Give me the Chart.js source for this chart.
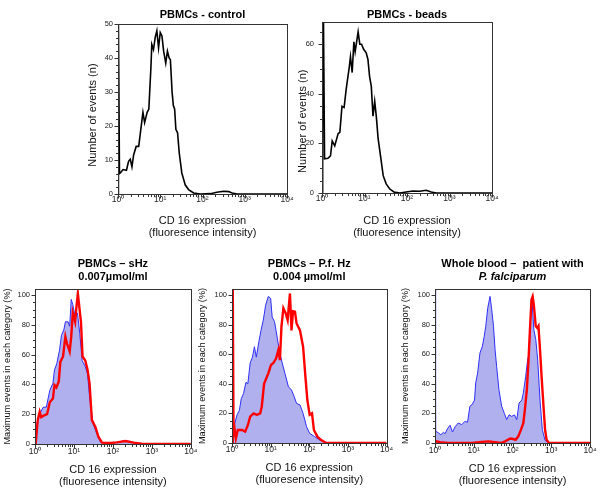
<!DOCTYPE html>
<html>
<head>
<meta charset="utf-8">
<script src="https://cdn.jsdelivr.net/npm/chart.js@4.4.1/dist/chart.umd.min.js"></script>
<style>
  html, body { margin: 0; padding: 0; background: #fff; }
  body { width: 600px; height: 492px; position: relative; overflow: hidden; }
  canvas { position: absolute; }
</style>
</head>
<body>
<canvas id="p1" width="240" height="245" style="left:60px;top:0px"></canvas>
<canvas id="p2" width="240" height="245" style="left:270px;top:0px"></canvas>
<canvas id="p3" width="200" height="242" style="left:0px;top:250px"></canvas>
<canvas id="p4" width="200" height="242" style="left:195px;top:250px"></canvas>
<canvas id="p5" width="202" height="242" style="left:398px;top:250px"></canvas>
<script>
// x values are decades of fluorescence intensity: 0 = 10^0 ... 4 = 10^4
const decadeTicks = ['10\u2070', '10\u00b9', '10\u00b2', '10\u00b3', '10\u2074'];

// PBMCs - control (number of events)
const controlX = [0, 0.01, 0.035, 0.055, 0.12, 0.2, 0.25, 0.29, 0.33, 0.37, 0.43, 0.49, 0.53, 0.59, 0.63, 0.69, 0.73, 0.78, 0.8, 0.84, 0.88, 0.92, 0.96, 1.0, 1.04, 1.08, 1.13, 1.17, 1.21, 1.24, 1.28, 1.31, 1.34, 1.37, 1.41, 1.45, 1.51, 1.59, 1.67, 1.79, 1.95, 2.19, 2.34, 2.5, 2.62, 2.7, 2.82, 4];
const controlY = [0, 50, 6, 6.2, 7.2, 7, 9.6, 10.2, 8, 11.5, 14, 14, 18, 24, 21, 24, 25, 37.5, 44, 42.5, 46, 48, 43, 47.5, 46.5, 42, 38.5, 42, 40, 39.5, 30, 26, 25, 19, 18, 12, 6.2, 2.7, 1.3, 0.3, 0, 0.1, 0.5, 0.8, 0.7, 0.3, 0, 0];

// PBMCs - beads (number of events)
const beadsX = [0.005, 0.015, 0.035, 0.06, 0.14, 0.2, 0.24, 0.3, 0.38, 0.42, 0.47, 0.52, 0.57, 0.64, 0.67, 0.71, 0.75, 0.78, 0.85, 0.89, 0.93, 0.98, 1.04, 1.08, 1.12, 1.16, 1.2, 1.24, 1.28, 1.32, 1.37, 1.44, 1.51, 1.59, 1.69, 1.83, 1.98, 2.14, 2.3, 2.45, 2.57, 2.69, 4];
const beadsY = [0, 69, 69, 13.8, 14, 15, 21, 19, 24, 24.5, 35, 34.5, 42, 50.6, 55, 48.6, 61, 57, 65, 60, 60, 58, 56.6, 54, 47, 43, 31, 37, 30.5, 22, 15.8, 7, 3.7, 1.7, 0.4, 0, 0.4, 0.8, 0.7, 1.1, 0.4, 0, 0];

// PBMCs - sHz (% of max), blue = filled reference, red = treated
const sHzBlueX = [0.017, 0.05, 0.12, 0.21, 0.29, 0.38, 0.46, 0.5, 0.56, 0.63, 0.68, 0.74, 0.78, 0.85, 0.89, 0.93, 0.97, 1.03, 1.09, 1.15, 1.21, 1.29, 1.35, 1.4, 1.49, 1.57, 1.68, 1.85, 2.06, 2.27, 2.44, 2.62, 2.79, 4];
const sHzBlueY = [0, 13.7, 20.2, 24.7, 24.7, 36, 40.7, 49.7, 54, 63, 73, 76.6, 82, 82, 79, 97, 93.5, 85.6, 88, 74, 56, 52, 47, 31.7, 13.7, 8, 1.3, 0.7, 1, 2, 1.8, 0.4, 0, 0];
const sHzRedX = [0.017, 0.07, 0.12, 0.16, 0.22, 0.31, 0.38, 0.46, 0.5, 0.55, 0.61, 0.65, 0.72, 0.78, 0.82, 0.89, 0.93, 0.97, 1.03, 1.06, 1.1, 1.15, 1.18, 1.22, 1.29, 1.35, 1.4, 1.46, 1.55, 1.63, 1.72, 1.93, 2.1, 2.32, 2.53, 2.74, 2.96, 4];
const sHzRedY = [0, 16, 21.6, 18, 19, 20, 28, 30.5, 39.5, 38, 42, 55, 58.7, 72, 67.6, 62, 72, 88, 82, 91, 101, 89, 82, 58.7, 56, 49.7, 40.7, 16, 11.5, 4.7, 0.9, 0.7, 1.1, 2, 0.9, 0.2, 0, 0];

// PBMCs - P.f. Hz (% of max)
const pfHzBlueX = [0.02, 0.07, 0.13, 0.19, 0.24, 0.3, 0.36, 0.41, 0.47, 0.53, 0.58, 0.63, 0.69, 0.75, 0.81, 0.87, 0.94, 1.0, 1.04, 1.1, 1.14, 1.18, 1.24, 1.3, 1.37, 1.46, 1.54, 1.61, 1.67, 1.76, 1.84, 1.93, 2.01, 2.14, 2.27, 2.4, 2.48, 4];
const pfHzBlueY = [0, 13, 19, 22, 30, 33.5, 41, 40, 54, 58, 65, 58, 67.6, 76, 83, 93, 99, 97.7, 85, 82, 76, 69.6, 60.6, 54, 47, 38, 35.8, 31.3, 26.8, 25.7, 20, 11, 6.5, 4.3, 2, 0.5, 0, 0];
const pfHzRedX = [0.01, 0.02, 0.04, 0.07, 0.1, 0.15, 0.26, 0.34, 0.41, 0.47, 0.56, 0.64, 0.73, 0.77, 0.83, 0.87, 0.94, 1.01, 1.07, 1.14, 1.2, 1.24, 1.28, 1.33, 1.39, 1.44, 1.5, 1.54, 1.58, 1.63, 1.67, 1.76, 1.84, 1.9, 1.95, 2.01, 2.07, 2.12, 2.21, 2.31, 2.44, 4];
const pfHzRedY = [0, 104, 4.3, 8.8, 3, 8.8, 8.8, 7.7, 12, 17.8, 20, 19, 20, 24.5, 40, 42.5, 47, 52.7, 54, 57, 62.8, 56, 78.6, 91, 87.6, 83, 101, 76, 89, 88.7, 80.9, 76, 65, 44.8, 29, 19, 20, 8.8, 4.3, 2, 0, 0];

// Whole blood - patient with P. falciparum (% of max)
const wbBlueX = [0, 0.015, 0.09, 0.15, 0.22, 0.26, 0.33, 0.39, 0.45, 0.52, 0.6, 0.69, 0.77, 0.84, 0.9, 0.96, 1.02, 1.05, 1.1, 1.16, 1.22, 1.27, 1.31, 1.36, 1.42, 1.46, 1.51, 1.55, 1.59, 1.65, 1.72, 1.79, 1.85, 1.91, 1.98, 2.05, 2.11, 2.17, 2.24, 2.28, 2.34, 2.39, 2.43, 2.48, 2.51, 2.55, 2.6, 2.65, 2.71, 2.77, 2.84, 2.92, 3.1, 4];
const wbBlueY = [104, 8, 6.8, 5.6, 7.2, 6.3, 10, 12, 7.4, 11, 13.5, 12.4, 14.6, 14, 24.8, 26, 29, 40.5, 47.3, 60.8, 65, 72, 78.8, 91, 99, 91, 78.8, 63, 51.8, 36, 24.8, 20, 15.8, 19, 18, 19, 15.8, 27, 29, 33.8, 45, 56, 60.8, 91, 93.5, 76.6, 70, 56, 29, 9, 1.8, 0.2, 0, 0];
const wbRedX = [0, 0.04, 0.13, 0.34, 0.95, 1.2, 1.38, 1.55, 1.7, 1.81, 1.94, 2.02, 2.08, 2.15, 2.22, 2.28, 2.32, 2.37, 2.41, 2.45, 2.49, 2.52, 2.55, 2.6, 2.64, 2.67, 2.71, 2.75, 2.8, 2.84, 2.88, 2.94, 4];
const wbRedY = [0.5, 1.1, 0.5, 0, 0, 0.7, 1.1, 0.5, 0, 1.1, 3, 2.7, 2.2, 4.5, 9, 13.5, 22.5, 36, 54, 76.6, 96.8, 99, 93.5, 78.8, 77.7, 79, 63, 45, 24.8, 9, 2.2, 0, 0];

const FONT = '"Liberation Sans", Arial, Helvetica, sans-serif';
const BLUE = '#2f2ff6';
const BLUE_FILL = '#b0b0ef';
const RED = '#ff0000';

function pts(xs, ys) {
  return xs.map((x, i) => ({ x, y: ys[i] }));
}

// frame round the plot plus major / minor tick marks on both axes
const axisMarks = {
  id: 'axisMarks',
  afterDraw(chart, args, opts) {
    const { ctx, chartArea: a, scales: { x, y } } = chart;
    const l = Math.round(a.left) + 0.5, r = Math.round(a.right) + 0.5;
    const t = Math.round(a.top) + 0.5, b = Math.round(a.bottom) + 0.5;
    ctx.save();
    ctx.strokeStyle = '#333';
    ctx.lineWidth = 1;
    ctx.strokeRect(l, t, r - l, b - t);
    ctx.beginPath();
    for (let d = 0; d <= 4; d++) {
      for (let k = 1; k < 10; k++) {
        if (d === 4 && k > 1) break;
        const px = Math.round(x.getPixelForValue(d + Math.log10(k))) + 0.5;
        ctx.moveTo(px, b);
        ctx.lineTo(px, b + (k === 1 ? 4 : 2.5));
      }
    }
    for (let v = 0; v <= y.max + 0.001; v += opts.minor) {
      const py = Math.round(y.getPixelForValue(v)) + 0.5;
      const major = Math.abs(v / opts.major - Math.round(v / opts.major)) < 1e-6;
      ctx.moveTo(l, py);
      ctx.lineTo(l - (major ? 4 : 2.5), py);
    }
    ctx.stroke();
    ctx.restore();
  },
};

function makePanel(id, p) {
  return new Chart(document.getElementById(id), {
    type: 'line',
    data: { datasets: p.datasets },
    options: {
      responsive: false,
      animation: false,
      events: [],
      layout: { padding: p.padding },
      elements: { point: { radius: 0 }, line: { tension: 0 } },
      plugins: {
        legend: { display: false },
        tooltip: { enabled: false },
        title: {
          display: true, text: p.title, fullSize: false, color: '#000',
          font: { family: FONT, size: 11, weight: 'bold', lineHeight: p.titleLH },
          padding: p.titlePad,
        },
        subtitle: {
          display: !!p.subtitle, text: p.subtitle || '', fullSize: false, color: '#000',
          font: { family: FONT, size: 11, weight: 'bold', style: p.subStyle || 'normal', lineHeight: p.titleLH },
          padding: p.subPad || 0,
        },
        axisMarks: { major: p.yStep, minor: p.yMinor },
      },
      scales: {
        x: {
          type: 'linear', min: 0, max: 4,
          grid: { display: false, drawTicks: false },
          border: { display: false },
          ticks: {
            stepSize: 1, color: '#222', padding: p.xTickPad, maxRotation: 0, autoSkip: false,
            font: { family: FONT, size: 8.5 },
            callback: (v) => decadeTicks[v],
          },
          title: {
            display: true, text: ['CD 16 expression', '(fluoresence intensity)'], color: '#111',
            font: { family: FONT, size: 11, lineHeight: 1.1 },
            padding: { top: 0, bottom: p.xTitlePad },
          },
          afterFit: (s) => { s.height = p.xAxisH; },
        },
        y: {
          type: 'linear', min: 0, max: p.yMax,
          grid: { display: false, drawTicks: false },
          border: { display: false },
          ticks: {
            stepSize: p.yStep, includeBounds: false, color: '#222', padding: p.yTickPad,
            font: { family: FONT, size: 7.5 },
          },
          title: {
            display: true, text: p.yTitle, color: '#111',
            font: { family: FONT, size: p.yTitleSize },
            padding: { top: p.yTitlePad, bottom: 0 },
          },
          afterFit: (s) => { s.width = p.yAxisW; },
        },
      },
    },
    plugins: [axisMarks],
  });
}

function blackLine(xs, ys) {
  return { data: pts(xs, ys), borderColor: '#000', borderWidth: 1.6, fill: false };
}
function redLine(xs, ys) {
  return { data: pts(xs, ys), borderColor: RED, borderWidth: 2.4, fill: false };
}
function blueArea(xs, ys) {
  return { data: pts(xs, ys), borderColor: BLUE, borderWidth: 1, backgroundColor: BLUE_FILL, fill: 'origin' };
}

// the top panels' axis titles sit a little below the middle of the axis
const countTitle = 'Number of events (n)';
const pctTitle = 'Maximum events in each category (%)';

makePanel('p1', {
  datasets: [blackLine(controlX, controlY)],
  title: 'PBMCs - control', titleLH: 1.2, titlePad: { top: 8.4, bottom: 2.4 },
  padding: { left: 20, right: 13, top: 0, bottom: 0 },
  yAxisW: 38, xAxisH: 51, yMax: 50, yStep: 10, yMinor: 2,
  yTitle: countTitle + '\u00a0'.repeat(4), yTitleSize: 11, yTitlePad: 6.4, yTickPad: 5,
  xTickPad: 0.9, xTitlePad: 6,
});

makePanel('p2', {
  datasets: [blackLine(beadsX, beadsY)],
  title: 'PBMCs - beads', titleLH: 1.2, titlePad: { top: 8.4, bottom: 0.4 },
  padding: { left: 20, right: 18, top: 0, bottom: 0 },
  yAxisW: 32, xAxisH: 52, yMax: 69, yStep: 20, yMinor: 5,
  yTitle: countTitle + '\u00a0'.repeat(9), yTitleSize: 11, yTitlePad: 6.7, yTickPad: 8,
  xTickPad: 0.9, xTitlePad: 5.7,
});

makePanel('p3', {
  datasets: [redLine(sHzRedX, sHzRedY), blueArea(sHzBlueX, sHzBlueY)],
  title: 'PBMCs \u2013 sHz', subtitle: '0.007\u00b5mol/ml', titleLH: 1.15,
  titlePad: { top: 7.7, bottom: 0 }, subPad: { top: 0, bottom: 6 },
  padding: { left: 0, right: 9, top: 0, bottom: 0 },
  yAxisW: 35, xAxisH: 48, yMax: 104, yStep: 20, yMinor: 5,
  yTitle: pctTitle, yTitleSize: 9.2, yTitlePad: 1.5, yTickPad: 5,
  xTickPad: 2.6, xTitlePad: 4.3,
});

makePanel('p4', {
  datasets: [redLine(pfHzRedX, pfHzRedY), blueArea(pfHzBlueX, pfHzBlueY)],
  title: 'PBMCs \u2013 P.f. Hz', subtitle: '0.004 \u00b5mol/ml', titleLH: 1.15,
  titlePad: { top: 7.7, bottom: 0 }, subPad: { top: 0, bottom: 6 },
  padding: { left: 0, right: 8, top: 0, bottom: 0 },
  yAxisW: 37, xAxisH: 49, yMax: 104, yStep: 20, yMinor: 5,
  yTitle: pctTitle, yTitleSize: 9.2, yTitlePad: 2.1, yTickPad: 5,
  xTickPad: 1.9, xTitlePad: 6,
});

makePanel('p5', {
  datasets: [redLine(wbRedX, wbRedY), blueArea(wbBlueX, wbBlueY)],
  title: 'Whole blood \u2013  patient with', subtitle: 'P. falciparum', subStyle: 'italic', titleLH: 1.15,
  titlePad: { top: 7.7, bottom: 0 }, subPad: { top: 0, bottom: 6 },
  padding: { left: 0, right: 10, top: 0, bottom: 0 },
  yAxisW: 37, xAxisH: 49, yMax: 104, yStep: 20, yMinor: 5,
  yTitle: pctTitle, yTitleSize: 9.2, yTitlePad: 2.4, yTickPad: 5,
  xTickPad: 3, xTitlePad: 5.3,
});
</script>
</body>
</html>
